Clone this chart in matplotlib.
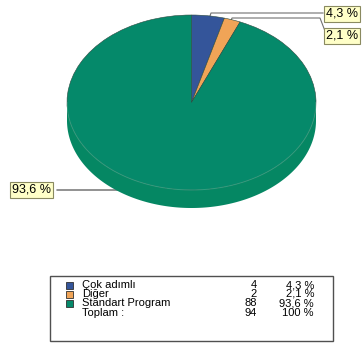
import numpy as np
import matplotlib.pyplot as plt
from matplotlib.patches import Rectangle, Polygon

categories = ['Çok adımlı', 'Diğer', 'Standart Program']
counts = [4, 2, 88]
percents = [4.3, 2.1, 93.6]
total_label = 'Toplam :'
total_count = 94
total_pct = '100 %'
colors = ['#34559a', '#f0a457', '#05896a']

plt.rcParams['font.family'] = ['Liberation Sans', 'DejaVu Sans']


def pct_text(p):
    return f"{p:.1f}".replace('.', ',') + ' %'


fig = plt.figure(figsize=(3.63, 3.48), dpi=100)
ax = fig.add_axes([0, 0, 1, 1])
ax.set_xlim(0, 363)
ax.set_ylim(348, 0)
ax.axis('off')

# pie: top face 67..316 x 15..190, rim depth 18 px
sy = 87.5
depth = 18 / sy
pax = fig.add_axes([67 / 363, 1 - 208 / 348, 249 / 363, 193 / 348])
wedges, _ = pax.pie(counts, colors=colors, startangle=90, counterclock=False,
                    wedgeprops=dict(edgecolor='#2a4a40', linewidth=0.4))
pax.set_aspect('auto')
pax.set_xlim(-1, 1)
pax.set_ylim(-1 - depth, 1)

t = np.linspace(np.pi, 2 * np.pi, 200)
top = np.column_stack([np.cos(t), np.sin(t)])
bot = np.column_stack([np.cos(t[::-1]), np.sin(t[::-1]) - depth])
pax.add_patch(Polygon(np.vstack([top, bot]), closed=True, facecolor='#058763',
                      edgecolor='none', zorder=0))
pax.plot(np.cos(t), np.sin(t), color='#30a080', lw=0.7, zorder=3)

# labels with leader lines
box = dict(boxstyle='square,pad=0.15', facecolor='#ffffc8', edgecolor='#8a8a60', lw=0.8)
fs_lab = 9
ax.plot([207, 211, 323], [25, 13, 13], color='#707070', lw=0.8)
ax.text(326, 14, pct_text(percents[0]), fontsize=fs_lab, va='center', ha='left', bbox=box)
ax.plot([228, 232, 320, 325], [28, 18, 18, 31], color='#707070', lw=0.8)
ax.text(326, 36, pct_text(percents[1]), fontsize=fs_lab, va='center', ha='left', bbox=box)
ax.plot([168, 166, 57], [182, 190, 190], color='#404040', lw=0.8)
ax.text(12, 190, pct_text(percents[2]), fontsize=fs_lab, va='center', ha='left', bbox=box)

# legend table
fs = 8
ax.add_patch(Rectangle((50, 276), 283, 65, facecolor='white', edgecolor='#505050', lw=1))
rows_y = [285, 294, 303, 313]
for i, name in enumerate(categories):
    y = rows_y[i]
    ax.add_patch(Rectangle((66, y - 3.5), 7, 7, facecolor=colors[i], edgecolor='#303030', lw=0.6))
    ax.text(82, y, name, fontsize=fs, va='center', ha='left')
    ax.text(257, y, str(counts[i]), fontsize=fs, va='center', ha='right')
    ax.text(314, y, pct_text(percents[i]), fontsize=fs, va='center', ha='right')
ax.text(82, rows_y[3], total_label, fontsize=fs, va='center', ha='left')
ax.text(257, rows_y[3], str(total_count), fontsize=fs, va='center', ha='right')
ax.text(314, rows_y[3], total_pct, fontsize=fs, va='center', ha='right')

fig.savefig('out.png', dpi=100)
